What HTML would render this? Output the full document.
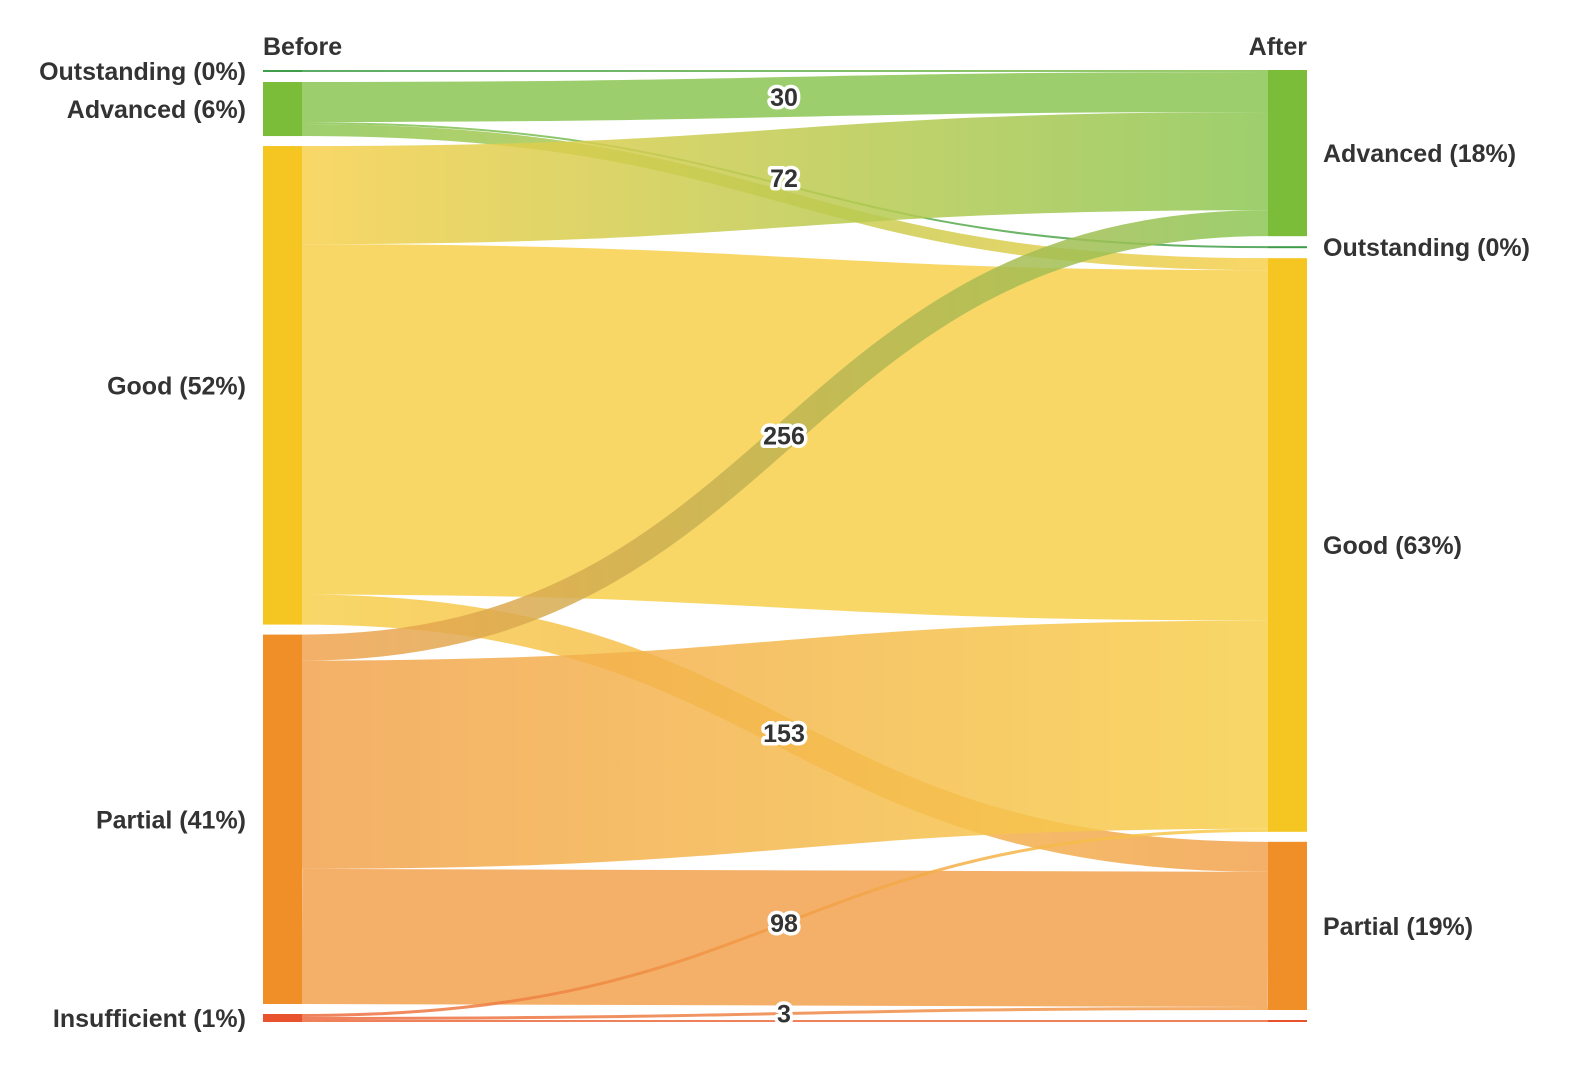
<!DOCTYPE html>
<html><head><meta charset="utf-8"><style>
html,body{margin:0;padding:0;background:#fff;}
svg{display:block;font-family:"Liberation Sans",sans-serif;}
.nl{font-weight:bold;font-size:25px;fill:#333;}
.vl{font-weight:bold;font-size:25px;fill:#333;stroke:#fff;stroke-width:7px;paint-order:stroke;stroke-linejoin:round;}
</style></head><body>
<svg id="chart" width="1588" height="1072" viewBox="0 0 1588 1072">
<defs id="defs"></defs>
<g id="links"></g>
<g id="nodes"></g>
<g id="labels"></g>
<text class="nl" x="263" y="55">Before</text>
<text class="nl" x="1307" y="55" text-anchor="end">After</text>
</svg>
<script>
const categories = ["Outstanding","Advanced","Good","Partial","Insufficient"];
const leftOrder = ["Outstanding","Advanced","Good","Partial","Insufficient"];
const rightOrder = ["Advanced","Outstanding","Good","Partial","Insufficient"];
const leftPct = ["0%","6%","52%","41%","1%"];
const rightPct = ["18%","0%","63%","19%",""];
const flowSource = ["Outstanding","Advanced","Advanced","Advanced","Good","Good","Good","Partial","Partial","Partial","Insufficient","Insufficient","Insufficient"];
const flowTarget = ["Advanced","Advanced","Outstanding","Good","Advanced","Good","Partial","Advanced","Good","Partial","Good","Partial","Insufficient"];
const flowValue = [2,40,2,12,98,350,30,26,208,135,3,3,2];
const flowLabel = [null,"30",null,null,"72",null,"153","256",null,null,"98","3",null];

const colors = {Outstanding:"#3f9d4a",Advanced:"#7bbd38",Good:"#f5c522",Partial:"#f08e28",Insufficient:"#e8522c"};
const linkColors = {Outstanding:"#3f9d4a",Advanced:"#8cc654",Good:"#f7d04c",Partial:"#f2a24e",Insufficient:"#ec6a40"};
const NS="http://www.w3.org/2000/svg";
const top0=70, bottom0=1022, gap=10, xL=263, xR=1268, nw=39;
const total = flowValue.reduce((a,b)=>a+b,0);
const k = (bottom0-top0-gap*4)/total;
function layout(order, side){
  const pos={}; let y=top0;
  order.forEach(n=>{
    let v=0; flowValue.forEach((fv,i)=>{ if((side==="L"?flowSource[i]:flowTarget[i])===n) v+=fv; });
    pos[n]={y:y,h:v*k,off:0}; y+=v*k+gap;
  });
  return pos;
}
const L=layout(leftOrder,"L"), R=layout(rightOrder,"R");
const idx=flowValue.map((_,i)=>i);
const srcSorted=[...idx].sort((a,b)=>leftOrder.indexOf(flowSource[a])-leftOrder.indexOf(flowSource[b])||rightOrder.indexOf(flowTarget[a])-rightOrder.indexOf(flowTarget[b]));
const tgtSorted=[...idx].sort((a,b)=>rightOrder.indexOf(flowTarget[a])-rightOrder.indexOf(flowTarget[b])||leftOrder.indexOf(flowSource[a])-leftOrder.indexOf(flowSource[b]));
const sy={},ty={};
srcSorted.forEach(i=>{const n=L[flowSource[i]];const w=flowValue[i]*k;sy[i]=n.y+n.off+w/2;n.off+=w;});
tgtSorted.forEach(i=>{const n=R[flowTarget[i]];const w=flowValue[i]*k;ty[i]=n.y+n.off+w/2;n.off+=w;});
const defs=document.getElementById('defs'), lg=document.getElementById('links'), lb=document.getElementById('labels'), ng=document.getElementById('nodes');
const x0=xL+nw, x1=xR, xm=(x0+x1)/2;
idx.forEach(i=>{
  const g=document.createElementNS(NS,'linearGradient');
  g.setAttribute('id','g'+i);g.setAttribute('gradientUnits','userSpaceOnUse');
  g.setAttribute('x1',x0);g.setAttribute('x2',x1);g.setAttribute('y1',0);g.setAttribute('y2',0);
  const s1=document.createElementNS(NS,'stop');s1.setAttribute('offset','0');s1.setAttribute('stop-color',linkColors[flowSource[i]]);
  const s2=document.createElementNS(NS,'stop');s2.setAttribute('offset','1');s2.setAttribute('stop-color',linkColors[flowTarget[i]]);
  g.appendChild(s1);g.appendChild(s2);defs.appendChild(g);
  const p=document.createElementNS(NS,'path');
  p.setAttribute('d',`M${x0},${sy[i]} C${xm},${sy[i]} ${xm},${ty[i]} ${x1},${ty[i]}`);
  p.setAttribute('fill','none');p.setAttribute('stroke','url(#g'+i+')');
  p.setAttribute('stroke-width',Math.max(1.5,flowValue[i]*k));p.setAttribute('stroke-opacity','0.85');
  
  
  lg.appendChild(p);
  if(flowLabel[i]){
    const t=document.createElementNS(NS,'text');
    t.setAttribute('class','vl');t.setAttribute('x',784);t.setAttribute('y',(sy[i]+ty[i])/2+9);t.setAttribute('text-anchor','middle');
    t.textContent=flowLabel[i];
    
    
    lb.appendChild(t);
  }
});
function drawNodes(pos,order,pct,x,side){
  order.forEach((n,j)=>{
    const r=document.createElementNS(NS,'rect');
    r.setAttribute('x',x);r.setAttribute('y',pos[n].y);r.setAttribute('width',nw);r.setAttribute('height',Math.max(2,pos[n].h));r.setAttribute('fill',colors[n]);
    
    
    ng.appendChild(r);
    if(pct[j]==="") return;
    const t=document.createElementNS(NS,'text');
    t.setAttribute('class','nl');
    const cy=pos[n].y+pos[n].h/2+9;
    if(side==="L"){t.setAttribute('x',246);t.setAttribute('text-anchor','end');}
    else{t.setAttribute('x',1323);}
    t.setAttribute('y',cy);
    t.textContent=n+' ('+pct[j]+')';
    
    
    ng.appendChild(t);
  });
}
drawNodes(L,leftOrder,leftPct,xL,"L");
drawNodes(R,rightOrder,rightPct,xR,"R");
</script>
</body></html>
